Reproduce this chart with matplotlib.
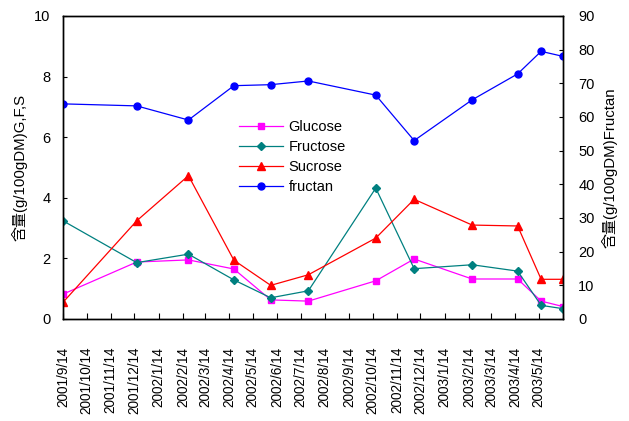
import numpy as np
import pandas as pd
import matplotlib
matplotlib.use("Agg")
import matplotlib.pyplot as plt
import matplotlib.dates as mdates

plt.rcParams['font.family'] = ['Liberation Sans', 'Noto Sans CJK JP', 'DejaVu Sans']

# sampling dates
dates = pd.to_datetime(['2001-09-14', '2001-12-17', '2002-02-21', '2002-04-20',
                        '2002-06-06', '2002-07-24', '2002-10-18', '2002-12-06',
                        '2003-02-18', '2003-04-17', '2003-05-17', '2003-06-14'])

glucose = [0.82, 1.88, 1.95, 1.65, 0.63, 0.59, 1.26, 1.98, 1.32, 1.32, 0.59, 0.41]
fructose = [3.24, 1.86, 2.14, 1.29, 0.70, 0.93, 4.32, 1.66, 1.79, 1.58, 0.45, 0.34]
sucrose = [0.55, 3.24, 4.73, 1.94, 1.11, 1.46, 2.67, 3.95, 3.10, 3.07, 1.31, 1.31]
fructan = [63.9, 63.3, 59.1, 69.3, 69.6, 70.7, 66.5, 53.0, 65.1, 72.8, 79.5, 78.0]

tick_dates = pd.date_range('2001-09-14', '2003-06-14', freq=pd.DateOffset(months=1))
tick_labels = [f'{d.year}/{d.month}/{d.day}' for d in tick_dates]
tick_labels[-1] = ''

fig = plt.figure(figsize=(6.29, 4.21), dpi=100)
ax = fig.add_axes([0.1002, 0.2423, 0.795, 0.7197])
ax2 = ax.twinx()

l1, = ax.plot(dates, glucose, color='#FF00FF', marker='s', ms=5, lw=0.9, label='Glucose')
l2, = ax.plot(dates, fructose, color='#008080', marker='D', ms=4, lw=0.9, label='Fructose')
l3, = ax.plot(dates, sucrose, color='#FF0000', marker='^', ms=6, lw=0.9, label='Sucrose')
l4, = ax2.plot(dates, fructan, color='#0000FF', marker='o', ms=5, lw=0.9, label='fructan')

ax.set_xlim(tick_dates[0], tick_dates[-1])
ax.set_ylim(0, 10)
ax2.set_ylim(0, 90)
ax.set_yticks(np.arange(0, 11, 2))
ax2.set_yticks(np.arange(0, 91, 10))
ax.set_xticks(tick_dates)
ax.set_xticklabels(tick_labels, rotation=90, fontsize=9.8)

ax.tick_params(axis='x', direction='in', length=4, pad=20)
ax.tick_params(axis='y', direction='in', length=3, labelsize=10.5, pad=9)
ax2.tick_params(axis='y', direction='in', length=3, labelsize=10.5, pad=11)

for a in (ax, ax2):
    for s in a.spines.values():
        s.set_linewidth(1.0)
        s.set_color('black')

ax.set_ylabel('含量(g/100gDM)G,F,S', fontsize=10.8, labelpad=5)
ax2.set_ylabel('含量(g/100gDM)Fructan', fontsize=10.8, labelpad=5)

ax.legend(handles=[l1, l2, l3, l4], loc='upper left', bbox_to_anchor=(0.34, 0.675),
          frameon=False, fontsize=10.5, handlelength=3, handletextpad=0.4,
          labelspacing=0.4, borderaxespad=0)

fig.savefig('out.png', dpi=100)
